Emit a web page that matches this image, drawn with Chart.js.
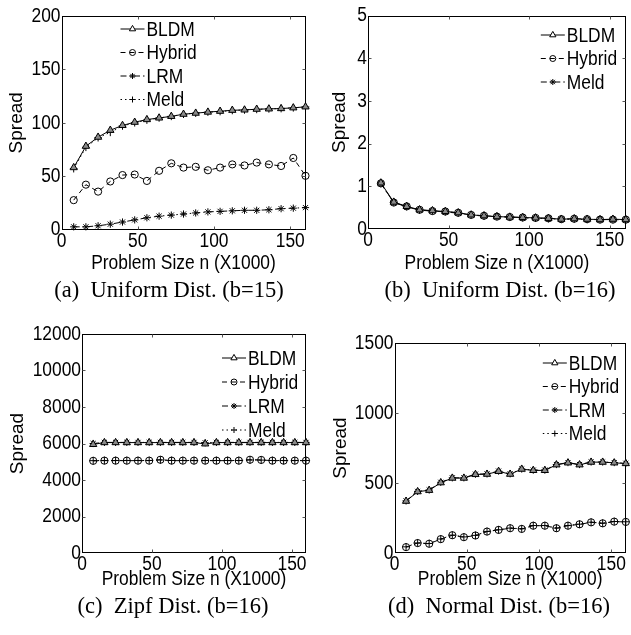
<!DOCTYPE html>
<html><head><meta charset="utf-8">
<script src="https://cdn.jsdelivr.net/npm/chart.js@4.4.1/dist/chart.umd.min.js"></script>
<style>
html,body{margin:0;padding:0;background:#fff;width:631px;height:635px;overflow:hidden;position:relative}
canvas{position:absolute}
.cap{position:absolute;font-family:'Liberation Serif','Times New Roman',serif;font-size:22.5px;line-height:26px;color:#000;white-space:pre;transform:translate(-50%,-50%)}
</style></head><body>
<canvas id="ca"></canvas><canvas id="cb"></canvas><canvas id="cc"></canvas><canvas id="cd"></canvas>
<div class="cap" style="left:169px;top:290px">(a)  Uniform Dist. (b=15)</div>
<div class="cap" style="left:500px;top:290px">(b)  Uniform Dist. (b=16)</div>
<div class="cap" style="left:173px;top:606px">(c)  Zipf Dist. (b=16)</div>
<div class="cap" style="left:499px;top:606px">(d)  Normal Dist. (b=16)</div>
<script>
// ---------- data ----------
const problemSizes = [8,16,24,32,40,48,56,64,72,80,88,96,104,112,120,128,136,144,152,160];
const xTickValues = [0,50,100,150];
const xTitle = 'Problem Size n (X1000)';
const yTitle = 'Spread';

// (a) Uniform Dist. (b=15)
const aBLDM   = [58,78,86.5,93,97.5,100.5,103,104.5,106,108,109,110,110.8,111.7,112,112.7,113,113.3,114,114.9];
const aHybrid = [27.5,42,35.5,45,51,51.5,45.5,55,62,58,58.7,55.5,58,61,60,62.7,61,59.5,67,50.3];
const aLRM    = [2.5,2.5,3.5,5,7,9,11,12.5,13.5,14.5,15.5,16.5,17,17.5,18,18,18.5,19.5,20,20.5];
const aMeld   = [57,77,86,91,97,100,102.5,104.5,106,108,109,110,110.5,111.5,112,112.5,113,113.3,114,114.8];
const aYTicks = [0,50,100,150,200];

// (b) Uniform Dist. (b=16)
const bBLDM   = [1.08,0.63,0.53,0.45,0.43,0.41,0.38,0.33,0.31,0.29,0.28,0.27,0.26,0.25,0.23,0.24,0.23,0.22,0.23,0.22];
const bHybrid = [1.07,0.62,0.53,0.45,0.42,0.41,0.38,0.33,0.31,0.29,0.28,0.27,0.26,0.25,0.23,0.24,0.23,0.22,0.22,0.22];
const bMeld   = [1.06,0.62,0.52,0.44,0.42,0.40,0.37,0.33,0.30,0.29,0.28,0.26,0.25,0.24,0.23,0.23,0.22,0.22,0.22,0.21];
const bYTicks = [0,1,2,3,4,5];

// (c) Zipf Dist. (b=16)
const cBLDM   = [5950,6050,6050,6050,6050,6050,6050,6050,6050,6050,5980,6050,6050,6050,6050,6050,6050,6050,6050,6050];
const cHybrid = [5050,5060,5060,5060,5060,5060,5110,5060,5060,5060,5060,5060,5060,5060,5110,5100,5060,5060,5060,5060];
const cLRM    = [6000,6060,6060,6060,6060,6060,6060,6060,6060,6060,6040,6060,6060,6060,6060,6060,6060,6060,6060,6060];
const cMeld   = [5060,5070,5070,5070,5070,5070,5100,5070,5070,5070,5070,5070,5070,5070,5100,5090,5070,5070,5070,5070];
const cYTicks = [0,2000,4000,6000,8000,10000,12000];

// (d) Normal Dist. (b=16)
const dBLDM   = [370,438,448,502,535,535,561,563,583,563,599,590,590,630,644,630,649,649,644,639];
const dHybrid = [42,71,66,99,127,113,125,153,165,177,172,195,195,177,195,205,219,212,224,222];
const dLRM    = [372,440,450,505,537,537,563,565,585,566,600,592,592,632,646,632,650,650,646,641];
const dMeld   = [44,72,68,100,128,115,126,154,166,178,173,196,196,178,196,206,220,213,225,223];
const dYTicks = [0,500,1000,1500];

// ---------- styling ----------
const SANS = "'Liberation Sans',Arial,Helvetica,sans-serif";
const FS = 17.4;      // tick / title / legend text
const FS_Y = 19;      // rotated y title
const TEXT_STRETCH = 1.2; // the reference's axis text is drawn taller than wide

// draw horizontal canvas text slightly taller (matches the stretched figure text)
(function(){
  const P = CanvasRenderingContext2D.prototype, orig = P.fillText;
  P.fillText = function(t,x,y,mw){
    const m = this.getTransform();
    if (Math.abs(m.b) > 1e-6 || Math.abs(m.c) > 1e-6) return mw===undefined ? orig.call(this,t,x,y) : orig.call(this,t,x,y,mw);
    this.save(); this.translate(x,y); this.scale(1,TEXT_STRETCH);
    if (mw===undefined) orig.call(this,t,0,0); else orig.call(this,t,0,0,mw);
    this.restore();
  };
})();

const styles = {
  BLDM:   {borderDash:[], pointStyle:'triangle', pointRadius:4.2, pointBackgroundColor:'#8a8a8a'},
  Hybrid: {borderDash:[5,4], pointStyle:'circle', pointRadius:3.6, pointBackgroundColor:'rgba(0,0,0,0)'},
  LRM:    {borderDash:[6,3,1.5,3], pointStyle:'star', pointRadius:3.6, pointBackgroundColor:'#000'},
  Meld:   {borderDash:[1.5,3], pointStyle:'cross', pointRadius:3.8, pointBackgroundColor:'#000'}
};
function ds(label, data, styleName){
  const s = styles[styleName];
  return {label, data: problemSizes.map((x,i)=>({x, y:data[i]})),
    borderColor:'#000', borderWidth:1, borderDash:s.borderDash,
    pointStyle:s.pointStyle, pointRadius:s.pointRadius, pointBorderColor:'#000',
    pointBorderWidth:1, pointBackgroundColor:s.pointBackgroundColor,
    fill:false, tension:0, clip:false};
}

const framePlugin = {
  id:'frame',
  beforeDatasetsDraw(chart){
    const {ctx, chartArea:a, scales:{x,y}} = chart;
    ctx.save();
    ctx.strokeStyle='#000'; ctx.lineWidth=1;
    const L=Math.round(a.left)+0.5, R=Math.round(a.right)-0.5, T=Math.round(a.top)+0.5, B=Math.round(a.bottom)-0.5;
    ctx.strokeRect(L,T,R-L,B-T);
    const tl=3;
    ctx.strokeStyle='#555';
    ctx.beginPath();
    x.ticks.forEach(t=>{const px=Math.round(x.getPixelForValue(t.value))+0.5; if(px>L+1&&px<R-1){ctx.moveTo(px,B);ctx.lineTo(px,B-tl);ctx.moveTo(px,T);ctx.lineTo(px,T+tl);}});
    y.ticks.forEach(t=>{const py=Math.round(y.getPixelForValue(t.value))+0.5; if(py>T+1&&py<B-1){ctx.moveTo(L,py);ctx.lineTo(L+tl,py);ctx.moveTo(R,py);ctx.lineTo(R-tl,py);}});
    ctx.stroke();
    ctx.restore();
  }
};

const legendPlugin = {
  id:'inLegend',
  afterDatasetsDraw(chart, args, opts){
    const {ctx, chartArea:a} = chart;
    const x0 = opts.fromRight ? a.right - opts.dx : a.left + opts.dx;
    ctx.save();
    chart.data.datasets.forEach((d,i)=>{
      const yy = a.top + opts.dy + i*opts.gap;
      ctx.strokeStyle='#000'; ctx.lineWidth=1;
      ctx.setLineDash(d.borderDash);
      ctx.beginPath(); ctx.moveTo(x0,yy); ctx.lineTo(x0+opts.len,yy); ctx.stroke();
      ctx.setLineDash([]);
      ctx.fillStyle = d.pointStyle==='triangle' ? '#fff' : d.pointBackgroundColor;
      Chart.helpers.drawPoint(ctx,{pointStyle:d.pointStyle, radius:d.pointStyle==='triangle'?3.6:3, borderWidth:1, rotation:0}, x0+opts.len/2, yy);
      ctx.fillStyle='#000';
      ctx.font = FS+'px '+SANS;
      ctx.textBaseline='middle'; ctx.textAlign='left';
      ctx.fillText(d.label, x0+opts.len+2, yy+1);
    });
    ctx.restore();
  }
};

function panel(id, g, yTicks, datasets, leg){
  const cv = document.getElementById(id);
  cv.width=g.w; cv.height=g.h;
  cv.style.left=g.x+'px'; cv.style.top=g.y+'px';
  const lh = FS*1.2, lhy = FS_Y*1.2;
  return new Chart(cv, {
    type:'line',
    data:{datasets},
    options:{
      responsive:false, maintainAspectRatio:false, animation:false, devicePixelRatio:1,
      layout:{padding:{left:0, top:g.t-g.y, right:g.x+g.w-g.r, bottom:0}},
      plugins:{legend:{display:false}, tooltip:{enabled:false}, inLegend:leg},
      scales:{
        x:{type:'linear', min:0, max:160,
          afterBuildTicks:s=>{s.ticks = xTickValues.map(v=>({value:v}));},
          afterFit:s=>{s.height = g.y+g.h-g.b;},
          grid:{display:false, drawTicks:false}, border:{display:false},
          ticks:{color:'#000', font:{family:SANS,size:FS}, padding:1, maxRotation:0, autoSkip:false, callback:v=>String(v)},
          title:{display:true, text:xTitle, color:'#000', font:{family:SANS,size:FS}, padding:{top:0,bottom:(g.y+g.h)-g.xTitleY-lh/2}}
        },
        y:{type:'linear', min:yTicks[0], max:yTicks[yTicks.length-1],
          afterBuildTicks:s=>{s.ticks = yTicks.map(v=>({value:v}));},
          afterFit:s=>{s.width = g.l-g.x;},
          grid:{display:false, drawTicks:false}, border:{display:false},
          ticks:{color:'#000', font:{family:SANS,size:FS}, padding:1, autoSkip:false, callback:v=>String(v)},
          title:{display:true, text:yTitle, color:'#000', font:{family:SANS,size:FS_Y}, padding:{top:g.yTitleX-g.x-lhy/2, bottom:0}}
        }
      }
    },
    plugins:[framePlugin, legendPlugin]
  });
}

panel('ca', {x:0,y:0,w:315,h:280,l:61.5,t:16,r:305.5,b:229.5,xTitleY:263,yTitleX:17}, aYTicks,
  [ds('BLDM',aBLDM,'BLDM'), ds('Hybrid',aHybrid,'Hybrid'), ds('LRM',aLRM,'LRM'), ds('Meld',aMeld,'Meld')],
  {fromRight:false, dx:59, dy:13, gap:23.5, len:24});
panel('cb', {x:315,y:0,w:316,h:280,l:368,t:15.5,r:630,b:229,xTitleY:263,yTitleX:340}, bYTicks,
  [ds('BLDM',bBLDM,'BLDM'), ds('Hybrid',bHybrid,'Hybrid'), ds('Meld',bMeld,'LRM')],
  {fromRight:true, dx:85, dy:19.5, gap:23.5, len:24});
panel('cc', {x:0,y:318,w:315,h:280,l:82,t:334,r:306,b:553,xTitleY:579,yTitleX:18}, cYTicks,
  [ds('BLDM',cBLDM,'BLDM'), ds('Hybrid',cHybrid,'Hybrid'), ds('LRM',cLRM,'LRM'), ds('Meld',cMeld,'Meld')],
  {fromRight:true, dx:84, dy:24, gap:24, len:24});
panel('cd', {x:315,y:318,w:316,h:280,l:394.5,t:343,r:629,b:553,xTitleY:579,yTitleX:341}, dYTicks,
  [ds('BLDM',dBLDM,'BLDM'), ds('Hybrid',dHybrid,'Hybrid'), ds('LRM',dLRM,'LRM'), ds('Meld',dMeld,'Meld')],
  {fromRight:true, dx:83, dy:20, gap:23.5, len:24});
</script>
</body></html>
